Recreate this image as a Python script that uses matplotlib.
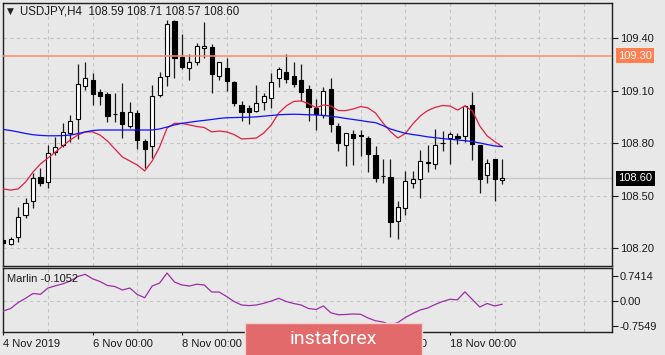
import matplotlib
matplotlib.use("Agg")
import matplotlib.pyplot as plt
from matplotlib.patches import Rectangle
import numpy as np

plt.rcParams['font.family'] = ['Liberation Sans', 'DejaVu Sans']

# USDJPY H4 candles, 4 Nov 2019 00:00 onwards
opens = [108.245, 108.223, 108.266, 108.390, 108.470, 108.609, 108.581, 108.752, 108.790, 108.857, 108.937, 109.129, 109.162, 109.091, 109.082, 108.970, 108.981,
         108.901, 108.971, 108.813, 108.786, 109.076, 109.185, 109.501, 109.295, 109.228, 109.267, 109.343, 109.348, 109.186, 109.232, 109.152, 109.019, 109.004,
         108.986, 109.038, 109.061, 109.171, 109.209, 109.185, 109.162, 109.110, 109.000, 108.962, 109.110, 108.901, 108.790, 108.851, 108.845, 108.832, 108.733,
         108.616, 108.610, 108.358, 108.432, 108.571, 108.594, 108.692, 108.680, 108.804, 108.829, 108.842, 108.842, 109.019, 108.790, 108.619, 108.710, 108.59]
highs = [108.250, 108.266, 108.438, 108.485, 108.628, 108.657, 108.790, 108.838, 108.914, 108.962, 109.251, 109.263, 109.200, 109.110, 109.091, 109.085, 109.143,
         109.038, 108.990, 108.824, 109.133, 109.209, 109.504, 109.504, 109.423, 109.308, 109.371, 109.495, 109.365, 109.267, 109.285, 109.156, 109.042, 109.019,
         109.133, 109.085, 109.200, 109.238, 109.308, 109.267, 109.251, 109.133, 109.053, 109.124, 109.171, 108.914, 108.857, 108.876, 108.876, 108.843, 108.786,
         108.710, 108.710, 108.470, 108.642, 108.642, 108.762, 108.790, 108.880, 108.870, 108.863, 108.857, 109.019, 109.091, 108.790, 108.710, 108.710, 108.71]
lows = [108.210, 108.219, 108.238, 108.371, 108.432, 108.558, 108.546, 108.733, 108.781, 108.809, 108.824, 109.104, 109.019, 109.019, 108.920, 108.924, 108.828,
        108.889, 108.767, 108.657, 108.718, 109.067, 109.127, 109.171, 109.225, 109.162, 109.248, 109.285, 109.089, 109.162, 109.099, 109.015, 108.927, 108.908,
        108.981, 108.990, 109.000, 109.124, 109.143, 109.124, 109.042, 108.927, 108.876, 108.943, 108.866, 108.756, 108.670, 108.676, 108.729, 108.638, 108.581,
        108.571, 108.267, 108.253, 108.390, 108.546, 108.489, 108.638, 108.651, 108.756, 108.682, 108.796, 108.809, 108.705, 108.514, 108.571, 108.470, 108.57]
closes = [108.230, 108.253, 108.381, 108.457, 108.600, 108.571, 108.743, 108.777, 108.866, 108.929, 109.139, 109.171, 109.082, 109.072, 108.958, 108.967, 108.908,
          108.981, 108.819, 108.767, 109.072, 109.181, 109.482, 109.289, 109.234, 109.263, 109.358, 109.358, 109.196, 109.263, 109.158, 109.028, 108.977, 108.981,
          109.028, 109.072, 109.152, 109.223, 109.168, 109.137, 109.095, 109.009, 108.965, 109.099, 108.908, 108.800, 108.857, 108.828, 108.843, 108.737, 108.600,
          108.613, 108.348, 108.438, 108.584, 108.596, 108.701, 108.690, 108.790, 108.803, 108.851, 108.829, 109.013, 108.796, 108.596, 108.689, 108.596, 108.60]

# moving averages drawn on the chart
red_ma = [108.539, 108.533, 108.539, 108.579, 108.636, 108.682, 108.716, 108.750, 108.785, 108.819, 108.847, 108.865, 108.865, 108.847, 108.813, 108.767, 108.722,
          108.699, 108.676, 108.642, 108.699, 108.779, 108.887, 108.914, 108.914, 108.905, 108.896, 108.890, 108.865, 108.870, 108.865, 108.850, 108.825, 108.827,
          108.830, 108.859, 108.905, 108.973, 109.013, 109.039, 109.042, 109.027, 109.003, 109.019, 109.013, 108.987, 108.987, 108.996, 109.010, 109.002, 108.973,
          108.916, 108.867, 108.830, 108.856, 108.910, 108.956, 108.987, 109.005, 109.016, 109.013, 108.990, 109.013, 108.985, 108.899, 108.842, 108.810, 108.781]
blue_ma = [108.879, 108.873, 108.865, 108.856, 108.849, 108.845, 108.843, 108.843, 108.844, 108.847, 108.855, 108.865, 108.873, 108.876, 108.876, 108.876, 108.876,
           108.876, 108.876, 108.876, 108.876, 108.882, 108.893, 108.905, 108.914, 108.920, 108.926, 108.931, 108.936, 108.942, 108.946, 108.947, 108.948, 108.949,
           108.951, 108.955, 108.959, 108.963, 108.965, 108.966, 108.965, 108.963, 108.962, 108.959, 108.954, 108.949, 108.942, 108.936, 108.930, 108.923, 108.918,
           108.901, 108.882, 108.869, 108.857, 108.850, 108.844, 108.837, 108.832, 108.827, 108.823, 108.819, 108.815, 108.810, 108.802, 108.793, 108.785, 108.781]

# Marlin oscillator
marlin = [-0.307, -0.232, -0.054, 0.072, 0.215, 0.191, 0.378, 0.444, 0.504, 0.587, 0.721, 0.787, 0.653, 0.572, 0.453, 0.423, 0.319,
          0.378, 0.185, 0.089, 0.438, 0.527, 0.825, 0.557, 0.468, 0.438, 0.492, 0.468, 0.259, 0.259, 0.125, -0.024, -0.128, -0.146,
          -0.128, -0.077, -0.009, 0.072, -0.024, -0.083, -0.128, -0.232, -0.262, -0.158, -0.361, -0.417, -0.411, -0.396, -0.405, -0.516, -0.599,
          -0.635, -0.724, -0.650, -0.501, -0.381, -0.277, -0.218, -0.113, -0.024, 0.042, 0.027, 0.265, 0.036, -0.188, -0.083, -0.158, -0.1052]

price_ticks = [109.40, 109.10, 108.80, 108.50, 108.20]
marlin_ticks = [0.7414, 0.0, -0.7549]
marlin_tick_labels = ['0.7414', '0.00', '-0.7549']
date_ticks = [0, 12, 24, 36, 48, 60]
date_labels = ['4 Nov 2019', '6 Nov 00:00', '8 Nov 00:00', '12 Nov 00:00', '14 Nov 00:00', '18 Nov 00:00']
level_line = 109.30
last_price = 108.60

bg = '#e8e8e8'
grid_col = '#c4c4c4'
W, H = 665, 355

def fx(px):
    return px / W

def fy(py):
    return 1 - py / H

fig = plt.figure(figsize=(6.65, 3.55), dpi=100, facecolor=bg)
ax = fig.add_axes([fx(2.5), fy(265.7), fx(612.3 - 2.5), (265.7 - 2.7) / H], facecolor=bg)
ax2 = fig.add_axes([fx(2.5), fy(331.7), fx(612.3 - 2.5), (331.7 - 268.3) / H], facecolor=bg)

x = np.arange(len(opens))
o = np.array(opens); c = np.array(closes)
bull = c >= o

# price panel
ax.axhline(last_price, color='#c8c8c8', lw=1.0, zorder=1)
ax.vlines(x, lows, highs, color='#1a1a1a', lw=0.9, zorder=2)
ax.bar(x, np.abs(c - o), bottom=np.minimum(o, c), width=0.56,
       color=np.where(bull, 'white', 'black'), edgecolor='black', linewidth=0.8, zorder=3)
ax.axhline(level_line, color='#ff8a65', lw=1.1, zorder=4)
ax.plot(x, red_ma, color='#e0203f', lw=0.9, zorder=5)
ax.plot(x, blue_ma, color='#1010ff', lw=0.9, zorder=5)

ax.set_xlim(-0.1, 81.8)
ax.set_ylim(108.101, 109.603)
ax.yaxis.tick_right()
ax.set_yticks(price_ticks)
ax.set_yticklabels([f'{v:.2f}' for v in price_ticks])
ax.set_xticks(range(6, 82, 6))
ax.tick_params(axis='x', length=0, labelbottom=False)
ax.tick_params(axis='y', length=4, width=0.8, pad=1.5, labelsize=8, colors='#1a1a1a')
ax.grid(True, color=grid_col, ls=(0, (3, 3)), lw=0.8)
ax.set_axisbelow(True)
for s in ax.spines.values():
    s.set_color('#202020'); s.set_linewidth(1.0)

# price labels on the right scale
ytr = ax.get_yaxis_transform()
ax.text(1.0095, level_line, f'{level_line:.2f}', transform=ytr, ha='left', va='center',
        fontsize=8, color='white', clip_on=False,
        bbox=dict(boxstyle='square,pad=0.22', fc='#ff7f50', ec='none'))
ax.text(1.0095, last_price, f'{last_price:.2f}', transform=ytr, ha='left', va='center',
        fontsize=8, color='white', clip_on=False,
        bbox=dict(boxstyle='square,pad=0.22', fc='black', ec='none'))

# header
fig.text(fx(7), fy(11.5), '\u25bc', fontsize=6.5, color='#202020', va='center', ha='left',
         family=['DejaVu Sans'])
fig.text(fx(20), fy(12), 'USDJPY,H4  108.59 108.71 108.57 108.60', fontsize=8.3,
         color='#1a1a1a', va='center', ha='left')

# Marlin panel
ax2.axhline(0.0, color=grid_col, ls=(0, (3, 3)), lw=0.8, zorder=1)
ax2.plot(x, marlin, color='#9b2fa6', lw=0.9, zorder=3)
ax2.set_xlim(-0.1, 81.8)
ax2.set_ylim(-0.924, 0.966)
ax2.yaxis.tick_right()
ax2.set_yticks(marlin_ticks)
ax2.set_yticklabels(marlin_tick_labels)
ax2.set_xticks(date_ticks)
ax2.set_xticklabels(date_labels, ha='left')
ax2.set_xticks(range(6, 82, 6), minor=True)
ax2.tick_params(axis='x', which='major', length=2.5, width=0.8, pad=2.5, labelsize=8, colors='#1a1a1a')
ax2.tick_params(axis='x', which='minor', length=0)
ax2.tick_params(axis='y', length=4, width=0.8, pad=1.5, labelsize=8, colors='#1a1a1a')
ax2.grid(True, axis='x', which='minor', color=grid_col, ls=(0, (3, 3)), lw=0.8)
ax2.set_axisbelow(True)
for s in ax2.spines.values():
    s.set_color('#202020'); s.set_linewidth(1.0)
fig.text(fx(7), fy(278.5), 'Marlin -0.1052', fontsize=8, color='#1a1a1a', va='center', ha='left')

# watermark logo (covers part of the date axis, as in the source)
fig.add_artist(Rectangle((fx(244.5), fy(356)), fx(422.3 - 244.5), (356 - 323.3) / H,
                         transform=fig.transFigure, fc='#e26a6a', ec='#f4d0d0', lw=1.0, zorder=10))
fig.text(fx(290), fy(339.5), 'instaforex', fontsize=14, color='white', va='center', ha='left',
         family=['Roboto', 'DejaVu Sans'], zorder=11)

fig.savefig('out.png', dpi=100, facecolor=bg)
